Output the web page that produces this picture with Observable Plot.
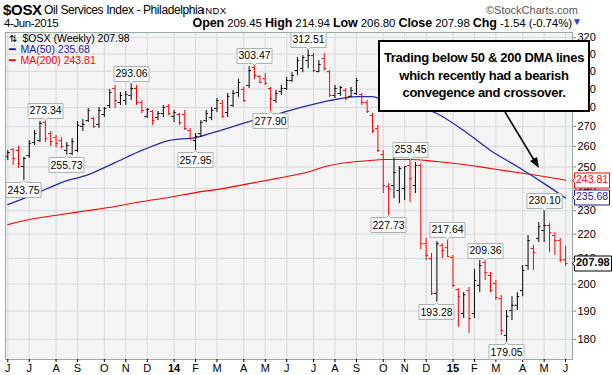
<!DOCTYPE html>
<html><head><meta charset="utf-8">
<script src="https://cdn.jsdelivr.net/npm/d3@7"></script>
<script src="https://cdn.jsdelivr.net/npm/@observablehq/plot@0.6"></script>
<style>
body{margin:0;background:#fff;}
#wrap{position:relative;width:612px;height:375px;overflow:hidden;font-family:"Liberation Sans",Arial,sans-serif;color:#000;}
#hdr{position:relative;height:31px;}
#hdr span{position:absolute;white-space:nowrap;}
#note{position:absolute;left:378px;top:40px;width:208px;height:61px;border:2px solid #000;background:#fff;font:bold 13px "Liberation Sans",Arial,sans-serif;letter-spacing:-0.3px;text-align:center;line-height:17.5px;padding-top:7px;box-sizing:content-box;}
#arrow{position:absolute;left:0;top:0;}
</style></head><body>
<div id="wrap">
 <div id="hdr">
  <span style="left:3px;top:1px;font-weight:bold;font-size:15px;letter-spacing:-0.3px;">$OSX</span>
  <span style="left:44px;top:3px;font-size:12px;letter-spacing:-0.4px;">Oil Services Index - Philadelphia</span>
  <span style="left:202px;top:5px;font-size:9.5px;letter-spacing:0.5px;">INDX</span>
  <span style="left:486px;top:4px;font-size:11px;color:#555;">©StockCharts.com</span>
  <span style="left:4px;top:17px;font-size:11.5px;letter-spacing:-0.4px;">4-Jun-2015</span>
  <span id="quote" style="right:40px;top:16px;font-size:11.5px;letter-spacing:-0.1px;"></span>
 </div>
 <div id="chart"></div>
 <div id="note">Trading below 50 &amp; 200 DMA lines<br>which recently had a bearish<br>convegence and crossover.</div>
 <svg id="arrow" width="612" height="375">
  <line x1="505" y1="112" x2="534" y2="160" stroke="#000" stroke-width="1.5"/>
  <polygon points="539,168 530,161 537,157" fill="#000"/>
 </svg>
</div>
<script>
// ---------------- DATA ----------------
const firstWeek = "2013-06-03"; // Monday of first weekly bar
const opens  = [255.0,258.5,258.0,250.2,255.5,261.9,262.9,272.1,266.4,264.4,262.9,258.0,256.5,258.0,270.1,273.1,274.2,271.1,276.3,281.1,
                290.3,282.7,283.7,286.5,290.3,282.7,275.3,277.9,274.7,276.8,280.6,275.3,276.3,276.3,268.0,262.9,266.4,273.1,274.7,279.5,
                282.2,277.3,281.1,288.1,289.8,292.0,302.1,297.0,295.9,290.3,283.7,288.7,290.3,294.8,300.4,301.5,306.2,309.1,299.8,307.3,
                299.8,286.5,287.6,289.2,286.0,287.6,287.0,282.7,275.8,269.0,256.0,240.8,241.3,239.0,239.9,250.7,241.3,250.7,216.0,210.0,
                196.5,215.3,214.4,210.4,197.9,189.1,197.6,189.1,199.5,208.4,203.3,200.2,194.6,181.4,190.2,192.1,197.6,207.2,214.1,218.2,
                221.5,223.6,219.4,217.3,209.45];
const highs  = [258.0,259.0,259.9,254.6,262.9,268.0,272.6,273.34,267.5,265.5,264.4,261.9,263.9,272.6,273.7,279.5,274.7,280.0,280.0,289.8,
                292.0,288.1,288.7,293.06,292.0,283.7,279.5,278.4,277.9,281.1,281.6,278.4,276.8,278.4,269.0,266.4,273.1,278.4,280.0,284.8,
                283.7,287.6,289.2,295.4,290.9,302.7,303.47,297.6,298.7,290.9,289.2,292.0,296.5,299.2,307.9,309.1,312.51,310.3,306.2,310.3,
                300.4,292.0,291.5,290.3,290.9,295.9,287.6,283.7,276.8,270.6,258.0,242.2,254.6,250.2,249.8,253.45,252.1,251.6,218.2,212.0,
                216.9,216.0,217.64,211.2,198.3,196.8,198.7,205.7,209.2,209.36,204.5,201.4,195.7,190.2,195.3,196.8,207.2,219.4,215.3,224.9,
                230.10,224.5,220.6,218.2,214.94];
const lows   = [253.1,250.7,249.3,243.75,254.1,260.4,261.9,262.0,259.9,259.4,258.9,255.73,255.5,257.0,267.5,272.1,269.0,269.0,274.7,279.5,
                279.5,281.1,281.1,283.7,281.1,276.8,274.2,270.6,273.1,274.7,275.8,272.1,270.6,268.0,262.9,257.95,264.4,272.1,273.1,277.3,
                274.2,274.7,280.0,285.4,282.7,290.3,295.4,293.1,292.0,277.90,282.2,286.5,289.2,293.7,297.6,299.2,301.5,299.2,299.2,300.4,
                285.4,284.8,286.0,283.7,285.4,286.5,281.1,276.8,266.4,257.0,237.7,227.73,235.4,233.2,234.5,233.6,237.7,213.6,209.2,195.7,
                193.28,210.0,210.4,198.7,184.2,187.3,182.1,187.3,196.8,201.4,196.8,193.9,181.4,179.05,186.6,190.2,195.3,205.3,205.3,216.5,
                216.5,212.4,211.2,208.4,206.80];
const closes = [257.0,254.1,251.6,254.1,261.4,266.4,271.6,263.9,262.4,261.4,259.9,260.4,262.4,270.6,271.1,278.4,270.1,278.4,279.5,288.1,
                283.7,286.5,287.0,290.3,282.7,278.4,278.9,273.1,276.8,280.0,276.8,277.3,272.1,269.0,263.9,265.0,272.1,276.8,278.4,283.7,
                275.3,286.0,287.6,293.7,283.7,300.4,297.6,293.7,293.1,284.8,287.6,290.3,294.8,297.6,306.2,307.9,309.1,300.4,303.9,301.5,
                286.5,290.3,290.9,284.8,289.2,294.8,282.7,277.9,268.0,258.0,241.3,239.9,247.4,249.3,250.2,244.5,250.7,216.0,211.2,196.5,
                216.0,213.2,210.8,199.5,195.3,196.0,187.3,201.4,207.2,204.5,197.6,195.0,183.1,188.1,192.1,195.3,205.3,217.3,212.4,223.1,
                223.6,220.6,217.3,209.52,207.98];

// moving averages read at selected weeks (week index from first bar)
const maWeeks = [0,5,10,15,20,25,30,35,40,45,50,55,60,65,68,70,75,80,85,90,95,100,104];
const ma50  = [232.7,237.4,242.7,246.4,252.1,258.0,262.9,264.4,268.3,272.6,276.3,280.3,283.7,285.9,285.9,284.2,282.2,276.8,268.0,258.0,250.2,242.2,235.68];
const ma200 = [224.0,226.6,228.4,230.1,231.9,234.1,235.9,238.1,239.9,242.2,244.5,247.0,250.7,252.6,253.2,253.6,253.6,252.6,251.2,249.3,247.4,245.5,243.81];

// annotated highs / lows
const noteWeeks  = [3,7,11,23,35,46,49,56,71,75,80,82,89,93,100];
const noteValues = ["243.75","273.34","255.73","293.06","257.95","303.47","277.90","312.51","227.73","253.45","193.28","217.64","209.36","179.05","230.10"];
const noteSide   = ["low","high","low","high","low","high","low","high","low","high","low","high","high","low","high"];

const yTicks = [180,190,200,210,220,230,240,250,260,270,280,290,300,310,320];
const monthLetters = ["J","F","M","A","M","J","J","A","S","O","N","D"];
const legendLines = ["$OSX (Weekly) 207.98","MA(50) 235.68","MA(200) 243.81"];
const tagValues = ["243.81","235.68","207.98"];
const quote = [["Open","209.45"],["High","214.94"],["Low","206.80"],["Close","207.98"],["Chg","-1.54 (-0.74%)"]];

// ---------------- BUILD ----------------
const q = document.getElementById("quote");
q.innerHTML = quote.map(([k,v]) => `<b style="font-size:12.5px">${k}</b> ${v}`).join(" ") + ' <span style="color:#1c3fd0;font-size:10px">▼</span>';

const t0 = new Date(firstWeek + "T00:00:00Z");
const wk = i => d3.utcDay.offset(t0, 7 * i);
const rows = opens.map((o, i) => ({
  date: wk(i), open: o, high: highs[i], low: lows[i], close: closes[i],
  col: (i === 0 || closes[i] >= closes[i - 1]) ? "#000000" : "#ff0000"
}));
const ma50Rows = maWeeks.map((w, i) => ({date: wk(w), v: ma50[i]}));
const ma200Rows = maWeeks.map((w, i) => ({date: wk(w), v: ma200[i]}));
const notes = noteWeeks.map((w, i) => ({date: wk(w), v: +noteValues[i], label: noteValues[i], side: noteSide[i]}));

const xDomain = [new Date("2013-05-31T00:00:00Z"), new Date("2015-06-10T00:00:00Z")];
const months = d3.utcMonth.range(new Date("2013-06-01T00:00:00Z"), new Date("2015-06-02T00:00:00Z"));
const monthTicks = months.map(m => d3.utcMonday.ceil(m));
const janTicks = monthTicks.filter(d => d.getUTCMonth() === 0);
const otherTicks = monthTicks.filter(d => d.getUTCMonth() !== 0);
const xEnd = xDomain[1];

const font = "Liberation Sans, Arial, sans-serif";
const marks = [
  Plot.frame({fill: "#f4f4f4"}),
  Plot.gridY(yTicks, {stroke: "#d9d9d9", strokeOpacity: 1}),
  Plot.gridX(monthTicks, {stroke: "#d9d9d9", strokeOpacity: 1}),
  Plot.line(ma200Rows, {x: "date", y: "v", stroke: "#ff0000", strokeWidth: 1.1, curve: "monotone-x"}),
  Plot.line(ma50Rows, {x: "date", y: "v", stroke: "#2a2aa0", strokeWidth: 1.3, curve: "monotone-x"}),
  Plot.ruleX(rows, {x: "date", y1: "low", y2: "high", stroke: "col", strokeWidth: 1}),
  Plot.ruleY(rows, {y: "open", x1: d => d3.utcDay.offset(d.date, -3), x2: "date", stroke: "col", strokeWidth: 1}),
  Plot.ruleY(rows, {y: "close", x1: "date", x2: d => d3.utcDay.offset(d.date, 3), stroke: "col", strokeWidth: 1}),
  Plot.frame({stroke: "#9aaba2"}),
  Plot.axisY(yTicks, {anchor: "right", tickSize: 3, tickPadding: 2, fontSize: 11, label: null, tickFormat: d => String(d), stroke: "#888"}),
  Plot.axisX(otherTicks, {anchor: "bottom", tickSize: 3, tickPadding: 2, fontSize: 11, label: null, tickFormat: d => monthLetters[d.getUTCMonth()]}),
  Plot.axisX(janTicks, {anchor: "bottom", tickSize: 3, tickPadding: 2, fontSize: 11, fontWeight: "bold", label: null, tickFormat: d => String(d.getUTCFullYear()).slice(2)}),
  Plot.text([legendLines[0]], {text: d => d, frameAnchor: "top-left", dx: 17, dy: 2, fontSize: 10.5, fill: "#000", fontFamily: font}),
  Plot.text(["⇅"], {text: d => d, frameAnchor: "top-left", dx: 3, dy: 2, fontSize: 10, fill: "#000"}),
  Plot.text([legendLines[1]], {text: d => d, frameAnchor: "top-left", dx: 15, dy: 13, fontSize: 10.5, fill: "#1a1a90", fontFamily: font}),
  Plot.text(["━"], {text: d => d, frameAnchor: "top-left", dx: 3, dy: 13, fontSize: 11, fill: "#1a1a90"}),
  Plot.text([legendLines[2]], {text: d => d, frameAnchor: "top-left", dx: 15, dy: 24, fontSize: 10.5, fill: "#ff0000", fontFamily: font}),
  Plot.text(["━"], {text: d => d, frameAnchor: "top-left", dx: 3, dy: 24, fontSize: 11, fill: "#ff0000"})
];
if (Plot.tip) {
  const tipOpts = {fill: "white", stroke: "#a8b4ae", fontSize: 10.5, textPadding: 1.5, pointerSize: 4, pathFilter: "none", fontFamily: font};
  marks.push(
    Plot.tip(notes.filter(d => d.side === "high"), {x: "date", y: "v", title: "label", anchor: "bottom", ...tipOpts}),
    Plot.tip(notes.filter(d => d.side === "low"), {x: "date", y: "v", title: "label", anchor: "top", ...tipOpts}),
    Plot.tip([tagValues[0]], {x: () => xEnd, y: d => +d, title: d => d, anchor: "left", fill: "white", stroke: "#ff0000", fontSize: 10.5, textPadding: 1.5, pointerSize: 4, pathFilter: "none", fontFamily: font}),
    Plot.tip([tagValues[1]], {x: () => xEnd, y: d => +d, title: d => d, anchor: "left", fill: "white", stroke: "#1a1a90", fontSize: 10.5, textPadding: 1.5, pointerSize: 4, pathFilter: "none", fontFamily: font}),
    Plot.tip([tagValues[2]], {x: () => xEnd, y: d => +d, title: d => d, anchor: "left", fill: "white", stroke: "#000", fontSize: 11, fontWeight: "bold", textPadding: 1.5, pointerSize: 4, pathFilter: "none", fontFamily: font})
  );
}

const chart = Plot.plot({
  width: 612, height: 344,
  marginTop: 1, marginBottom: 16, marginLeft: 5, marginRight: 40,
  x: {type: "utc", domain: xDomain},
  y: {type: "log", domain: [173.25, 323.0]},
  style: {fontFamily: font, fontSize: "11px", background: "transparent", overflow: "visible", color: "#000"},
  marks
});
document.getElementById("chart").appendChild(chart);

// colour the price tags
const tips = chart.querySelectorAll('g[aria-label="tip"]');
const tagCols = ["#ff0000", "#1a1a90", "#000"];
for (let k = 0; k < 3; k++) {
  const g = tips[2 + k];
  if (!g) continue;
  g.querySelectorAll("text, tspan").forEach(t => t.style.fill = tagCols[k]);
}
</script>
</body></html>
